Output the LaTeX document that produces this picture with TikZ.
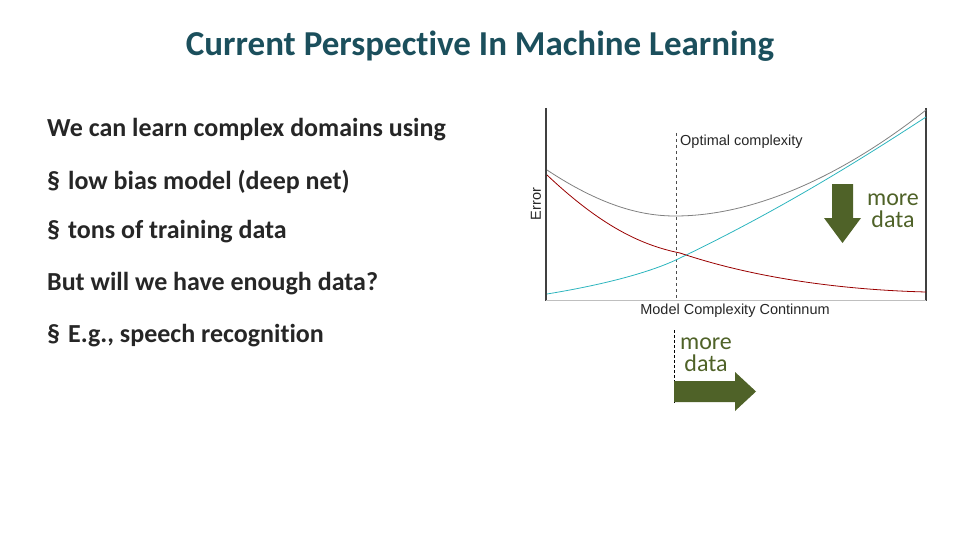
\documentclass[tikz,border=0pt]{standalone}
\usepackage{fontspec}
\setmainfont[Ligatures=NoCommon]{Carlito}
\newfontfamily\arialf{Liberation Sans}
\begin{document}
\begin{tikzpicture}[x=1pt,y=-1pt,
  body/.style={anchor=west,font=\fontsize{26}{30}\selectfont\bfseries,text=black!85,inner sep=0},
  chartlbl/.style={font=\arialf\fontsize{14.5}{16}\selectfont,text=black!85,inner sep=0},
  gtext/.style={font=\fontsize{24}{22}\selectfont,text=dg,align=center,inner sep=0}]
\definecolor{tc}{HTML}{1B4F5C}
\definecolor{dg}{HTML}{4F6228}
\definecolor{cy}{HTML}{2CB5BE}
\useasboundingbox (0,0) rectangle (960,540);
\node[font=\fontsize{35}{40}\selectfont\bfseries,text=tc] (title) at (480,46) {Current Perspective In Machine Learning};
\node[body] (t1) at (47,130) {We can learn complex domains using};
\node[body] (t2) at (47,182) {\S\hspace{8pt}low bias model (deep net)};
\node[body] (t3) at (47,232) {\S\hspace{8pt}tons of training data};
\node[body] (t4) at (47,284) {But will we have enough data?};
\node[body] (t5) at (47,336) {\S\hspace{8pt}E.g., speech recognition};
% chart
\draw[line width=2pt,black!75] (546,108) -- (546,301);
\draw[line width=2pt,black!75] (926,108) -- (926,301);
\draw[black!25,line width=0.8pt] (546,300) -- (926,300);
\draw[dashed,black!70,line width=0.8pt] (676,133) -- (676,300);
\draw[gray,line width=0.8pt] (547,170) .. controls (600,205) and (640,216) .. (675,216) .. controls (760,216) and (850,170) .. (926,110);
\draw[cy,line width=0.8pt] (547,294) .. controls (620,282) and (660,268) .. (680,258) .. controls (780,210) and (860,160) .. (926,117);
\draw[red!60!black,line width=0.8pt] (547,175) .. controls (600,225) and (640,245) .. (680,253) .. controls (760,280) and (850,290) .. (926,292);
\node[chartlbl,anchor=west] (oc) at (680,142) {Optimal complexity};
\node[chartlbl] (mc) at (735,311) {Model Complexity Continnum};
\node[chartlbl,rotate=90] (err) at (536,204) {Error};
% down arrow
\fill[dg] (832,184) -- (853,184) -- (853,218) -- (861,218) -- (842.5,243) -- (824,218) -- (832,218) -- cycle;
\node[gtext] (md1) at (893,211) {more\\data};
% right arrow
\draw[densely dashed,black,line width=1pt] (674,330) -- (674,403);
\fill[dg] (674,381) -- (735,381) -- (735,372) -- (756,391.5) -- (735,411) -- (735,402) -- (674,402) -- cycle;
\node[gtext] (md2) at (706,355) {more\\data};
\end{tikzpicture}
\end{document}
